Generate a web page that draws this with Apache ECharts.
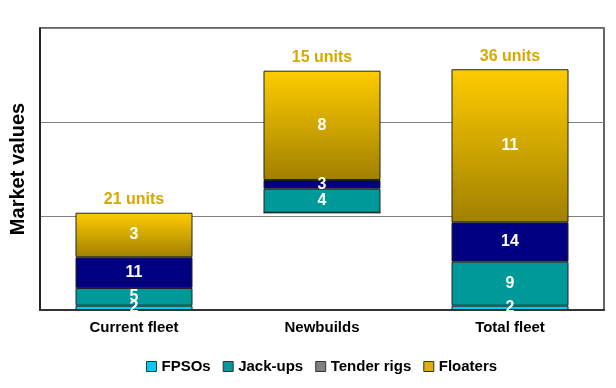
<!DOCTYPE html>
<html><head><meta charset="utf-8">
<script src="https://cdn.jsdelivr.net/npm/echarts@6/dist/echarts.min.js"></script>
<style>html,body{margin:0;padding:0;background:#fff}#c{width:616px;height:388px}</style>
</head><body><div id="c"></div>
<script>
const categories = ['Current fleet', 'Newbuilds', 'Total fleet'];
const baseValues = [0, 1.035, 0];
const fpsoValues = [0.046, 0, 0.046];
const jackupValues = [0.188, 0.255, 0.468];
const tenderValues = [0.327, 0.093, 0.419];
const floaterValues = [0.474, 1.163, 1.628];
const fpsoUnits = ['2', '', '2'];
const jackupUnits = ['5', '4', '9'];
const tenderUnits = ['11', '3', '14'];
const floaterUnits = ['3', '8', '11'];
const totalUnits = ['21 units', '15 units', '36 units'];
const legendNames = ['FPSOs', 'Jack-ups', 'Tender rigs', 'Floaters'];

const FONT = '"Liberation Sans", Arial, sans-serif';
const goldGrad = new echarts.graphic.LinearGradient(0, 0, 0, 1, [
  {offset: 0, color: '#FFCC00'}, {offset: 1, color: '#A08000'}]);
const inLabel = (arr) => ({show: true, position: 'inside', color: '#fff', fontFamily: FONT,
  fontWeight: 'bold', fontSize: 16, formatter: p => arr[p.dataIndex]});
const border = {borderColor: '#222', borderWidth: 1};

const chart = echarts.init(document.getElementById('c'));
chart.setOption({
  animation: false,
  grid: {left: 37.5, right: 12, top: 28, bottom: 78, show: true, borderColor: '#333', borderWidth: 1.5},
  legend: {
    left: 141, top: 354, itemWidth: 10, itemHeight: 10, itemGap: 12,
    icon: 'rect',
    textStyle: {fontFamily: FONT, fontWeight: 'bold', fontSize: 15, color: '#000'},
    data: [
      {name: 'FPSOs', itemStyle: {color: '#00CCFF', borderColor: '#333', borderWidth: 1}},
      {name: 'Jack-ups', itemStyle: {color: '#009999', borderColor: '#333', borderWidth: 1}},
      {name: 'Tender rigs', itemStyle: {color: '#808080', borderColor: '#333', borderWidth: 1}},
      {name: 'Floaters', itemStyle: {color: '#E0B000', borderColor: '#333', borderWidth: 1}}
    ]
  },
  xAxis: {
    type: 'category', data: categories,
    axisLine: {lineStyle: {color: '#333', width: 2}},
    axisTick: {show: false},
    axisLabel: {color: '#000', fontFamily: FONT, fontWeight: 'bold', fontSize: 15, margin: 10}
  },
  yAxis: {
    type: 'value', min: 0, max: 3, interval: 1,
    name: 'Market values', nameLocation: 'middle', nameRotate: 90, nameGap: 12,
    nameTextStyle: {color: '#000', fontFamily: FONT, fontWeight: 'bold', fontSize: 20},
    axisLabel: {show: false}, axisTick: {show: false},
    axisLine: {show: true, lineStyle: {color: '#111', width: 1.5}},
    splitLine: {lineStyle: {color: '#808080', width: 1.2}}
  },
  series: [
    {name: 'base', type: 'bar', stack: 's', barWidth: 117, data: baseValues,
     itemStyle: {color: 'transparent'}, silent: true},
    {name: legendNames[0], type: 'bar', stack: 's', data: fpsoValues,
     itemStyle: Object.assign({color: '#00CCFF'}, border), label: inLabel(fpsoUnits)},
    {name: legendNames[1], type: 'bar', stack: 's', data: jackupValues,
     itemStyle: Object.assign({color: '#009999'}, border), label: inLabel(jackupUnits)},
    {name: legendNames[2], type: 'bar', stack: 's', data: tenderValues,
     itemStyle: Object.assign({color: '#000080'}, border), label: inLabel(tenderUnits)},
    {name: legendNames[3], type: 'bar', stack: 's', data: floaterValues,
     itemStyle: Object.assign({color: goldGrad}, border), label: inLabel(floaterUnits)},
    {name: 'total', type: 'bar', stack: 's', data: [0, 0, 0],
     itemStyle: {color: 'transparent'},
     label: {show: true, position: 'top', distance: 5, color: '#D9A800', fontFamily: FONT,
       fontWeight: 'bold', fontSize: 16, formatter: p => totalUnits[p.dataIndex]}}
  ]
});
</script></body></html>
